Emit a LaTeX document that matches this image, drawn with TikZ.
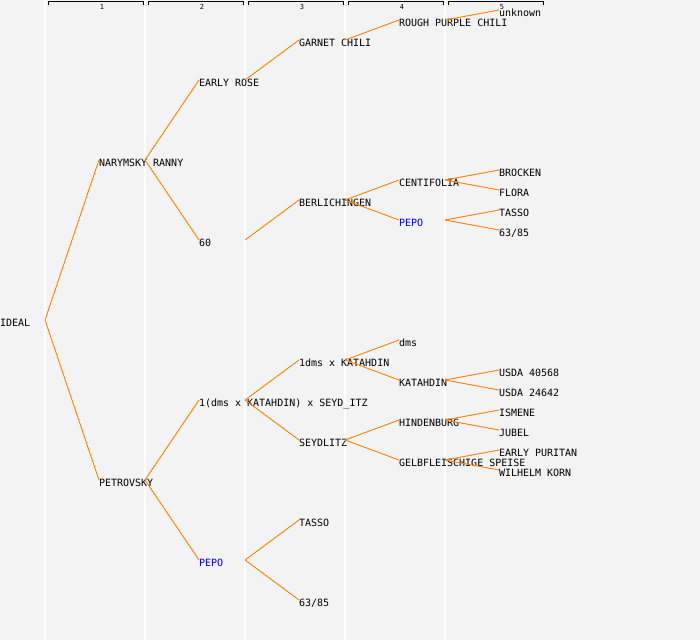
\documentclass[tikz,border=0pt]{standalone}
\usepackage{fontspec}
\setmonofont{DejaVu Sans Mono}
\definecolor{bgc}{HTML}{F3F3F3}
\definecolor{edgec}{HTML}{FF8000}
\definecolor{pepoc}{HTML}{0000FF}
\tikzset{
  lbl/.style={anchor=base west, inner sep=0pt, outer sep=0pt, font=\ttfamily\fontsize{10}{10}\selectfont, text=black},
  blue lbl/.style={lbl, text=pepoc},
  edge/.style={draw=edgec, line width=0.9pt},
  colline/.style={draw=white, line width=1.5pt},
  bracket/.style={draw=black, line width=1pt},
  hdr/.style={inner sep=0pt, font=\ttfamily\fontsize{7}{7}\selectfont}
}
\begin{document}
\begin{tikzpicture}[x=1pt,y=-1pt]
\fill[bgc] (0,0) rectangle (700,640);
\useasboundingbox (0,0) rectangle (700,640);
% column separators
\foreach \cx in {45,145,245,345,445} \draw[colline] (\cx,0) -- (\cx,640);
% header brackets
\foreach \i in {1,...,5} {
  \pgfmathsetmacro{\xa}{100*\i-52}
  \pgfmathsetmacro{\xb}{100*\i+43}
  \pgfmathsetmacro{\xm}{100*\i+2}
  \draw[bracket] (\xa,4.5) -- (\xa,1.5) -- (\xb,1.5) -- (\xb,4.5);
  \node[hdr] (h\i) at (\xm,6.5) {\i};
}
% generation 0
\node[lbl] (ideal) at (0,326) {IDEAL};
% generation 1
\node[lbl] (nar) at (99,166) {NARYMSKY RANNY};
\node[lbl] (pet) at (99,486) {PETROVSKY};
% generation 2
\node[lbl] (ear) at (199,86) {EARLY ROSE};
\node[lbl] (six) at (199,246) {60};
\node[lbl] (dmsk) at (199,406) {1(dms x KATAHDIN) x SEYD\_ITZ};
\node[blue lbl] (pepoA) at (199,566) {PEPO};
% generation 3
\node[lbl] (gar) at (299,46) {GARNET CHILI};
\node[lbl] (ber) at (299,206) {BERLICHINGEN};
\node[lbl] (onedms) at (299,366) {1dms x KATAHDIN};
\node[lbl] (sey) at (299,446) {SEYDLITZ};
\node[lbl] (tasA) at (299,526) {TASSO};
\node[lbl] (sA) at (299,606) {63/85};
% generation 4
\node[lbl] (rough) at (399,26) {ROUGH PURPLE CHILI};
\node[lbl] (cen) at (399,186) {CENTIFOLIA};
\node[blue lbl] (pepoB) at (399,226) {PEPO};
\node[lbl] (dms) at (399,346) {dms};
\node[lbl] (kat) at (399,386) {KATAHDIN};
\node[lbl] (hin) at (399,426) {HINDENBURG};
\node[lbl] (gel) at (399,466) {GELBFLEISCHIGE SPEISE};
% generation 5
\node[lbl] (unk) at (499,16) {unknown};
\node[lbl] (bro) at (499,176) {BROCKEN};
\node[lbl] (flo) at (499,196) {FLORA};
\node[lbl] (tasB) at (499,216) {TASSO};
\node[lbl] (sB) at (499,236) {63/85};
\node[lbl] (usa) at (499,376) {USDA 40568};
\node[lbl] (usb) at (499,396) {USDA 24642};
\node[lbl] (ism) at (499,416) {ISMENE};
\node[lbl] (jub) at (499,436) {JUBEL};
\node[lbl] (epur) at (499,456) {EARLY PURITAN};
\node[lbl] (wil) at (499,476) {WILHELM KORN};
% edges
\foreach \c in {nar,pet}
  \draw[edge] ([shift={(45,-6)}]ideal.base west) -- ([shift={(0,-6)}]\c.base west);
\foreach \p/\c in {nar/ear, nar/six, pet/dmsk, pet/pepoA,
                   ear/gar, six/ber, dmsk/onedms, dmsk/sey, pepoA/tasA, pepoA/sA,
                   gar/rough, ber/cen, ber/pepoB, onedms/dms, onedms/kat, sey/hin, sey/gel,
                   rough/unk, cen/bro, cen/flo, pepoB/tasB, pepoB/sB, kat/usa, kat/usb,
                   hin/ism, hin/jub, gel/epur, gel/wil}
  \draw[edge] ([shift={(46,-6)}]\p.base west) -- ([shift={(0,-6)}]\c.base west);
\end{tikzpicture}
\end{document}
